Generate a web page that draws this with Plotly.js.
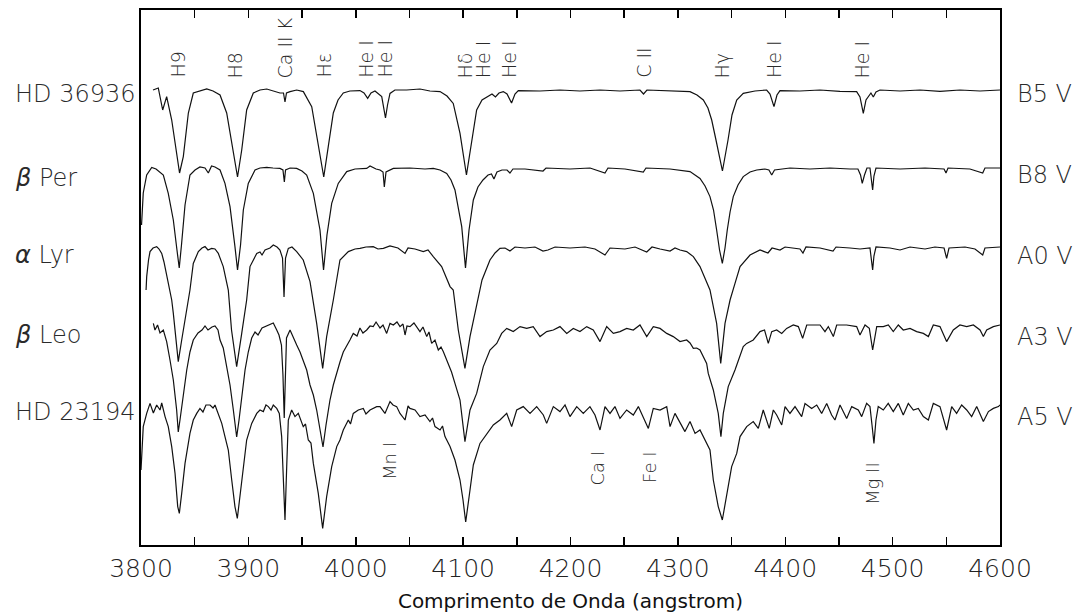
<!DOCTYPE html>
<html>
<head>
<meta charset="utf-8">
<script src="https://cdn.plot.ly/plotly-3.0.1.min.js"></script>
<style>
html,body{margin:0;padding:0;background:#fff;}
#chart{width:1079px;height:613px;}
</style>
</head>
<body>
<div id="chart"></div>
<script>
// ---------------- DATA (wavelength in angstrom, normalized flux) ----------------
const hd36936 = [[3811.2,1.000],[3816.1,1.010],[3820.2,0.900],[3823.9,0.967],[3828.6,0.850],[3833.2,0.667],[3835.9,0.585],[3839.4,0.667],[3844.1,0.885],[3848.7,0.985],[3854.9,0.995],[3861.2,1.005],[3867.1,0.995],[3873.6,0.975],[3879.8,0.885],[3886.0,0.700],[3889.9,0.565],[3893.8,0.700],[3898.4,0.900],[3904.6,0.985],[3910.8,1.000],[3917.1,1.005],[3922.9,0.995],[3929.4,0.985],[3932.7,0.985],[3934.1,0.940],[3935.5,0.985],[3938.8,0.992],[3945.0,1.000],[3951.2,0.992],[3959.0,0.917],[3965.1,0.735],[3970.2,0.565],[3974.4,0.717],[3979.1,0.885],[3983.5,0.950],[3988.4,0.985],[3994.6,0.995],[4003.9,0.997],[4007.7,0.985],[4011.1,0.958],[4014.2,0.985],[4017.9,0.995],[4024.2,0.967],[4025.8,0.925],[4027.7,0.860],[4029.6,0.925],[4031.9,0.983],[4036.5,1.000],[4047.4,1.000],[4059.8,1.005],[4069.1,0.995],[4078.5,0.992],[4085.0,0.970],[4090.8,0.933],[4097.1,0.783],[4103.1,0.575],[4108.0,0.733],[4112.6,0.900],[4117.6,0.950],[4123.2,0.970],[4126.9,0.980],[4130.1,0.965],[4133.4,0.985],[4137.4,0.992],[4140.9,0.980],[4145.1,0.935],[4148.3,0.980],[4151.4,0.997],[4171.6,0.995],[4190.2,1.000],[4208.8,0.995],[4227.5,1.000],[4246.1,0.995],[4264.7,1.000],[4268.0,0.980],[4271.2,1.000],[4292.7,0.995],[4311.3,0.992],[4317.8,0.975],[4323.7,0.950],[4328.0,0.910],[4331.5,0.850],[4335.5,0.750],[4341.5,0.595],[4346.7,0.750],[4350.4,0.875],[4354.8,0.950],[4360.9,0.983],[4371.8,0.995],[4382.7,1.000],[4385.8,0.980],[4389.5,0.917],[4392.3,0.975],[4395.1,0.997],[4413.7,0.995],[4432.3,1.000],[4450.9,0.993],[4466.5,0.992],[4469.6,0.965],[4472.7,0.883],[4475.2,0.950],[4477.3,0.967],[4479.8,0.985],[4482.0,0.965],[4484.5,0.990],[4488.2,1.000],[4506.9,0.995],[4525.5,1.000],[4544.1,0.993],[4562.7,1.000],[4581.4,0.995],[4600.0,1.000]];

const betaPer = [[3800.5,0.715],[3802.1,0.875],[3805.3,0.965],[3810.0,1.003],[3814.0,0.995],[3817.7,0.980],[3820.8,0.965],[3825.4,0.873],[3830.1,0.740],[3833.5,0.590],[3835.6,0.500],[3837.7,0.615],[3841.0,0.815],[3845.6,0.965],[3850.3,0.990],[3854.9,1.005],[3859.6,1.000],[3862.7,0.975],[3865.7,1.010],[3868.9,1.005],[3873.6,0.990],[3878.2,0.923],[3882.9,0.807],[3887.5,0.607],[3889.9,0.490],[3892.7,0.615],[3895.3,0.790],[3899.9,0.923],[3906.2,0.990],[3910.8,1.000],[3917.1,1.003],[3922.9,1.000],[3929.4,0.998],[3932.2,0.990],[3933.5,0.930],[3934.6,0.990],[3938.8,1.000],[3945.0,0.998],[3949.9,0.985],[3954.3,0.965],[3960.5,0.873],[3966.7,0.690],[3970.0,0.490],[3973.2,0.665],[3977.6,0.823],[3983.7,0.923],[3991.6,0.982],[3999.3,0.995],[4010.2,0.998],[4013.3,1.010],[4018.9,0.995],[4022.6,0.990],[4025.4,0.980],[4026.6,0.905],[4028.2,0.980],[4035.0,0.998],[4050.5,1.000],[4064.5,0.995],[4072.2,0.998],[4078.5,0.990],[4084.7,0.973],[4088.7,0.940],[4092.4,0.890],[4098.7,0.707],[4102.2,0.500],[4105.5,0.690],[4109.5,0.840],[4113.8,0.905],[4118.5,0.940],[4123.2,0.965],[4126.4,0.970],[4128.7,0.945],[4131.5,0.980],[4136.2,0.990],[4140.9,0.990],[4143.6,0.975],[4146.4,0.995],[4157.6,0.995],[4174.4,0.985],[4177.2,1.000],[4199.5,0.995],[4218.2,1.000],[4232.1,0.975],[4234.9,1.000],[4250.7,0.995],[4267.8,0.980],[4270.3,1.000],[4292.7,0.995],[4311.3,0.982],[4320.6,0.948],[4325.3,0.910],[4329.9,0.857],[4333.2,0.790],[4336.1,0.690],[4338.8,0.590],[4341.4,0.523],[4343.9,0.600],[4346.0,0.690],[4348.6,0.780],[4351.6,0.857],[4356.0,0.915],[4360.9,0.957],[4367.2,0.980],[4373.4,0.990],[4381.1,0.995],[4384.8,0.990],[4387.4,0.965],[4390.0,0.990],[4404.4,1.000],[4423.0,0.995],[4441.7,1.000],[4460.3,0.995],[4467.7,0.995],[4470.1,0.965],[4471.7,0.923],[4473.8,0.965],[4476.1,1.000],[4478.9,1.000],[4480.3,0.950],[4481.4,0.890],[4482.6,0.960],[4484.5,1.000],[4506.9,0.995],[4530.2,1.000],[4547.9,0.995],[4549.7,0.975],[4551.6,1.000],[4572.0,0.995],[4583.9,0.975],[4586.0,1.000],[4600.0,1.000]];

const alphaLyr = [[3804.7,0.785],[3805.3,0.852],[3807.0,0.935],[3808.4,0.977],[3811.2,0.995],[3814.6,1.002],[3816.8,0.990],[3819.3,0.968],[3821.4,0.925],[3823.9,0.852],[3828.6,0.735],[3830.1,0.668],[3833.2,0.502],[3834.7,0.427],[3837.9,0.535],[3842.6,0.685],[3845.6,0.785],[3848.7,0.918],[3853.4,0.977],[3856.8,0.995],[3859.6,1.002],[3862.4,0.985],[3865.8,0.993],[3868.9,0.990],[3872.0,0.968],[3876.6,0.902],[3881.3,0.785],[3884.3,0.585],[3889.1,0.402],[3893.8,0.568],[3898.4,0.735],[3901.5,0.902],[3907.8,0.968],[3910.8,0.975],[3912.7,0.960],[3915.5,0.985],[3920.1,0.995],[3923.2,1.010],[3926.7,1.000],[3929.4,0.985],[3931.8,0.945],[3933.2,0.750],[3934.6,0.945],[3937.2,0.993],[3940.6,1.000],[3945.0,0.977],[3951.1,0.935],[3957.4,0.827],[3963.6,0.618],[3969.2,0.393],[3972.9,0.552],[3979.1,0.735],[3985.3,0.935],[3993.1,0.977],[3999.3,0.990],[4003.9,0.993],[4009.5,1.000],[4016.3,1.002],[4020.7,0.990],[4025.7,0.993],[4031.9,1.005],[4039.3,0.995],[4045.9,0.968],[4048.7,0.995],[4055.2,0.990],[4062.9,0.977],[4067.3,0.985],[4072.2,0.952],[4080.0,0.902],[4087.8,0.802],[4090.8,0.785],[4095.5,0.585],[4101.7,0.393],[4106.4,0.552],[4112.6,0.718],[4117.6,0.835],[4125.0,0.935],[4129.7,0.970],[4134.3,0.993],[4139.0,0.995],[4143.6,0.980],[4148.3,1.000],[4157.6,0.995],[4166.9,1.000],[4174.4,0.980],[4179.0,0.985],[4185.6,1.000],[4199.5,0.995],[4213.5,1.000],[4222.8,0.990],[4232.1,0.960],[4236.8,0.995],[4250.7,0.990],[4260.1,1.000],[4271.0,0.975],[4275.9,1.000],[4283.4,0.990],[4292.7,0.980],[4297.3,0.995],[4302.0,0.985],[4308.2,0.977],[4314.4,0.952],[4320.6,0.902],[4326.8,0.818],[4329.9,0.785],[4336.1,0.618],[4339.9,0.418],[4343.9,0.618],[4348.6,0.735],[4353.2,0.818],[4357.9,0.902],[4367.2,0.960],[4376.5,0.985],[4383.9,0.970],[4387.7,0.995],[4395.1,0.985],[4399.8,1.000],[4413.7,0.990],[4416.5,0.970],[4419.3,1.000],[4432.4,0.995],[4444.5,0.980],[4447.3,1.000],[4460.3,0.995],[4469.6,0.990],[4478.9,0.995],[4480.3,0.945],[4481.4,0.885],[4482.6,0.955],[4484.5,1.000],[4497.5,0.995],[4506.9,0.985],[4516.2,1.000],[4530.2,0.990],[4539.4,1.000],[4547.9,0.995],[4550.3,0.943],[4552.5,0.995],[4567.4,1.000],[4576.7,0.990],[4583.9,0.960],[4586.0,0.995],[4600.0,1.000]];

const betaLeo = [[3811.5,1.013],[3813.0,0.980],[3815.4,1.005],[3817.7,0.965],[3820.8,0.980],[3823.9,0.922],[3827.0,0.830],[3830.1,0.730],[3833.2,0.580],[3834.7,0.470],[3836.3,0.530],[3839.4,0.655],[3842.6,0.780],[3845.6,0.870],[3848.7,0.930],[3853.1,0.965],[3856.8,0.980],[3859.6,1.000],[3862.4,0.980],[3866.1,0.995],[3868.9,1.000],[3871.7,0.980],[3873.6,0.930],[3876.6,0.890],[3879.8,0.805],[3882.9,0.705],[3886.0,0.580],[3889.1,0.445],[3891.3,0.530],[3894.1,0.655],[3896.9,0.780],[3899.9,0.870],[3903.1,0.940],[3906.2,0.970],[3909.0,0.955],[3912.7,0.990],[3917.1,1.000],[3920.1,1.005],[3923.2,1.015],[3926.4,0.980],[3928.5,0.955],[3930.8,0.905],[3932.2,0.755],[3933.4,0.540],[3934.4,0.755],[3935.5,0.940],[3938.8,0.980],[3941.8,0.940],[3945.0,0.905],[3948.1,0.870],[3951.1,0.830],[3954.3,0.780],[3957.4,0.705],[3960.5,0.655],[3963.6,0.580],[3966.7,0.480],[3969.5,0.395],[3972.3,0.505],[3976.0,0.630],[3979.1,0.705],[3982.3,0.770],[3985.3,0.820],[3988.4,0.870],[3991.6,0.905],[3994.6,0.930],[3997.7,0.963],[4001.2,0.950],[4003.9,0.990],[4006.7,0.965],[4010.2,0.980],[4013.3,1.000],[4016.3,0.997],[4018.9,1.020],[4022.6,0.990],[4025.4,1.005],[4028.8,0.963],[4031.9,1.013],[4035.0,1.005],[4038.4,1.020],[4041.2,0.997],[4044.0,1.010],[4045.9,0.955],[4047.7,1.000],[4050.5,0.997],[4054.2,1.015],[4059.8,0.972],[4062.6,0.995],[4066.1,0.947],[4068.2,0.970],[4070.7,0.913],[4073.8,0.930],[4076.9,0.880],[4079.4,0.895],[4081.5,0.872],[4086.2,0.813],[4089.2,0.770],[4092.4,0.713],[4097.1,0.630],[4101.7,0.422],[4106.4,0.580],[4112.6,0.663],[4118.8,0.797],[4125.0,0.880],[4131.3,0.913],[4135.9,0.963],[4140.6,0.988],[4146.7,0.972],[4153.0,0.997],[4159.2,0.988],[4165.3,0.997],[4171.6,0.947],[4177.8,0.972],[4184.0,0.980],[4190.2,0.997],[4196.5,0.963],[4202.6,0.988],[4208.8,0.972],[4215.1,0.997],[4221.2,0.980],[4227.5,0.922],[4233.7,0.997],[4239.9,0.963],[4246.1,0.972],[4252.3,0.988],[4258.5,0.980],[4264.7,1.005],[4271.0,0.947],[4277.1,0.997],[4283.4,0.988],[4289.6,0.963],[4295.7,0.947],[4302.0,0.922],[4308.2,0.930],[4311.3,0.915],[4314.4,0.888],[4317.5,0.890],[4320.6,0.880],[4323.7,0.847],[4326.8,0.813],[4328.3,0.763],[4333.0,0.680],[4337.6,0.563],[4340.1,0.447],[4342.3,0.563],[4346.9,0.697],[4353.2,0.780],[4356.3,0.830],[4360.9,0.897],[4364.1,0.913],[4370.2,0.930],[4376.5,0.972],[4380.7,0.980],[4384.2,0.913],[4387.4,0.972],[4392.0,0.980],[4396.7,0.963],[4401.3,0.988],[4407.5,1.005],[4412.2,0.997],[4416.2,0.938],[4420.0,1.005],[4432.4,1.005],[4437.0,0.972],[4440.1,0.997],[4444.8,0.947],[4447.9,1.005],[4457.2,1.005],[4466.5,0.997],[4469.6,0.955],[4474.3,1.005],[4478.3,0.988],[4481.4,0.880],[4485.2,0.997],[4491.3,0.997],[4496.0,1.005],[4500.6,0.972],[4505.3,1.005],[4509.9,0.980],[4516.2,0.988],[4522.4,0.972],[4528.6,0.963],[4533.3,0.947],[4537.9,1.005],[4544.1,0.997],[4550.3,0.922],[4556.5,0.980],[4562.7,1.005],[4569.0,0.997],[4575.2,1.005],[4581.4,0.980],[4584.5,0.947],[4587.6,0.980],[4593.8,0.997],[4600.0,1.005]];

const hd23194 = [[3800.0,0.675],[3800.7,0.760],[3802.1,0.892],[3805.3,0.958],[3808.4,1.008],[3811.5,0.960],[3814.6,1.000],[3817.7,0.975],[3819.3,1.010],[3822.4,0.942],[3825.4,0.892],[3828.6,0.792],[3831.7,0.658],[3834.2,0.492],[3835.7,0.458],[3837.9,0.558],[3841.0,0.708],[3845.6,0.858],[3848.7,0.925],[3851.9,0.958],[3854.9,0.983],[3857.7,0.965],[3860.5,1.000],[3864.3,1.000],[3867.1,0.985],[3868.9,1.000],[3872.0,0.958],[3875.2,0.908],[3878.2,0.842],[3881.3,0.775],[3884.5,0.625],[3887.5,0.492],[3889.7,0.433],[3892.2,0.542],[3895.3,0.692],[3898.4,0.825],[3903.1,0.908],[3907.8,0.958],[3910.8,0.975],[3913.9,0.967],[3916.4,1.000],[3918.6,0.992],[3921.1,0.975],[3923.2,1.000],[3926.4,0.983],[3928.8,0.958],[3931.0,0.842],[3932.5,0.625],[3934.1,0.425],[3935.7,0.692],[3937.2,0.925],[3940.3,0.975],[3943.4,0.942],[3946.5,0.958],[3951.1,0.892],[3953.2,0.905],[3955.8,0.825],[3958.3,0.810],[3960.5,0.708],[3965.1,0.558],[3969.2,0.383],[3972.9,0.542],[3977.6,0.692],[3982.3,0.792],[3985.3,0.825],[3988.4,0.875],[3993.1,0.925],[3995.1,0.905],[3997.7,0.958],[4002.4,0.975],[4007.0,0.983],[4009.5,0.955],[4013.3,0.975],[4019.5,0.992],[4022.6,0.992],[4027.2,0.958],[4031.9,1.017],[4034.7,1.000],[4038.1,0.992],[4041.2,0.958],[4045.9,0.925],[4048.7,0.995],[4050.5,0.983],[4055.2,0.975],[4059.8,0.942],[4064.5,0.950],[4069.1,0.917],[4071.5,0.935],[4073.8,0.892],[4078.5,0.875],[4080.8,0.895],[4083.1,0.842],[4087.8,0.792],[4092.4,0.725],[4097.1,0.625],[4099.9,0.525],[4102.4,0.415],[4106.4,0.575],[4109.5,0.700],[4115.7,0.808],[4122.0,0.858],[4128.1,0.900],[4134.3,0.925],[4140.6,0.958],[4145.2,0.892],[4149.9,0.975],[4156.0,0.992],[4162.3,0.958],[4168.5,0.992],[4174.7,0.950],[4177.8,0.908],[4184.0,0.992],[4190.2,0.967],[4194.9,1.000],[4199.5,0.942],[4205.8,0.992],[4211.9,0.958],[4218.1,0.992],[4222.8,0.950],[4227.5,0.875],[4232.1,0.992],[4236.8,0.958],[4241.4,0.992],[4246.1,0.933],[4252.3,0.975],[4258.5,0.950],[4263.2,0.992],[4267.8,0.942],[4272.5,0.883],[4277.1,0.983],[4283.4,0.975],[4289.6,0.992],[4292.7,0.892],[4297.3,0.958],[4302.0,0.908],[4306.6,0.867],[4311.3,0.917],[4316.0,0.858],[4320.6,0.875],[4325.3,0.825],[4329.9,0.775],[4333.0,0.625],[4337.6,0.492],[4341.4,0.425],[4345.4,0.558],[4350.1,0.692],[4354.8,0.758],[4357.9,0.842],[4364.1,0.892],[4370.2,0.917],[4374.9,0.883],[4379.5,0.975],[4385.1,0.883],[4388.9,0.975],[4392.0,0.950],[4396.7,0.900],[4399.8,0.992],[4404.4,0.958],[4409.1,0.992],[4415.3,0.942],[4418.4,1.008],[4424.6,0.983],[4429.3,1.000],[4433.9,0.958],[4438.6,1.008],[4443.2,0.950],[4446.3,0.925],[4451.0,1.000],[4457.2,0.933],[4461.9,0.992],[4468.0,0.975],[4471.2,0.942],[4475.8,1.008],[4478.9,0.992],[4480.8,0.900],[4482.6,0.808],[4484.5,0.925],[4486.6,0.992],[4491.3,0.975],[4495.9,1.008],[4500.6,0.967],[4505.3,1.008],[4509.9,0.950],[4514.6,1.008],[4519.3,0.975],[4523.9,0.983],[4528.6,0.942],[4533.3,0.925],[4537.9,1.008],[4544.1,0.992],[4550.3,0.875],[4555.0,0.992],[4559.6,0.958],[4564.3,1.000],[4569.0,0.975],[4573.6,0.942],[4578.3,0.992],[4584.5,0.917],[4589.2,0.967],[4593.8,0.983],[4598.5,0.992],[4600.0,1.000]];

const starNames = ['HD 36936', '<i>β</i> Per', '<i>α</i> Lyr', '<i>β</i> Leo', 'HD 23194'];
const spectralTypes = ['B5 V', 'B8 V', 'A0 V', 'A3 V', 'A5 V'];
const fluxOffsets = [1.275, 0.885, 0.49, 0.095, -0.30];

const topLineLabels = ['H9', 'H8', 'Ca II K', 'Hε', 'He I', 'He I', 'Hδ', 'He I', 'He I', 'C II', 'Hγ', 'He I', 'He I'];
const topLineWaves  = [3834.0, 3888.0, 3934.1, 3969.5, 4009.4, 4026.8, 4102.2, 4118.8, 4142.7, 4267.8, 4341.5, 4389.5, 4471.9];

const metalLineLabels = ['Mn I', 'Ca I', 'Fe I', 'Mg II'];
const metalLineWaves  = [4030.9, 4225.1, 4273.1, 4481.2];

const tickValues = [3800, 3900, 4000, 4100, 4200, 4300, 4400, 4500, 4600];
const tickLabels = ['3800', '3900', '4000', '4100', '4200', '4300', '4400', '4500', '4600'];

// ---------------- LAYOUT CONSTANTS ----------------
const starLabelY = [2.255, 1.835, 1.45, 1.05, 0.6675];
const typeLabelY = [2.255, 1.85, 1.445, 1.04, 0.64];
const metalLabelY = [0.42, 0.385, 0.39, 0.3075];
const topLabelY = 2.325;

const spectra = [hd36936, betaPer, alphaLyr, betaLeo, hd23194];
const traces = spectra.map((s, i) => ({
  type: 'scatter',
  mode: 'lines',
  x: s.map(p => p[0]),
  y: s.map(p => p[1] + fluxOffsets[i]),
  line: {color: '#111', width: 1.2},
  hoverinfo: 'skip',
  name: starNames[i]
}));

const textColor = '#2a2a2a';
const thinFont = (size) => ({family: 'DejaVu Sans, Verdana, sans-serif', size: size, color: textColor, weight: 200});

const annotations = [];
topLineLabels.forEach((t, i) => annotations.push({
  x: topLineWaves[i], y: topLabelY, xref: 'x', yref: 'y', text: t, showarrow: false,
  textangle: -90, xanchor: 'center', yanchor: 'bottom', font: thinFont(19)
}));
metalLineLabels.forEach((t, i) => annotations.push({
  x: metalLineWaves[i], y: metalLabelY[i], xref: 'x', yref: 'y', text: t, showarrow: false,
  textangle: -90, xanchor: 'center', yanchor: 'middle', font: thinFont(18)
}));
starNames.forEach((t, i) => annotations.push({
  x: -0.149, y: starLabelY[i], xref: 'paper', yref: 'y', text: t, showarrow: false,
  xanchor: 'left', yanchor: 'middle', font: thinFont(24)
}));
spectralTypes.forEach((t, i) => annotations.push({
  x: 1.0175, y: typeLabelY[i], xref: 'paper', yref: 'y', text: t, showarrow: false,
  xanchor: 'left', yanchor: 'middle', font: thinFont(24)
}));

const layout = {
  width: 1079, height: 613,
  margin: {l: 141, r: 79, t: 10, b: 68, pad: 0},
  paper_bgcolor: '#fff', plot_bgcolor: '#fff',
  showlegend: false,
  xaxis: {
    range: [3800, 4600],
    tickmode: 'array', tickvals: tickValues, ticktext: tickLabels,
    ticks: 'inside', ticklen: 8, tickwidth: 1.5, tickcolor: '#000',
    minor: {dtick: 50, tick0: 3800, ticks: 'inside', ticklen: 8, tickwidth: 1.5, tickcolor: '#000', showgrid: false},
    showline: true, linecolor: '#000', linewidth: 2, mirror: 'ticks',
    showgrid: false, zeroline: false,
    tickfont: {family: 'DejaVu Sans, Verdana, sans-serif', size: 25, color: '#222', weight: 200},
    title: {text: 'Comprimento de Onda (angstrom)', font: {family: 'DejaVu Sans, Verdana, sans-serif', size: 20, color: '#111'}, standoff: 12},
    automargin: false, fixedrange: true
  },
  yaxis: {
    range: [0, 2.675],
    showticklabels: false, ticks: '',
    showline: true, linecolor: '#000', linewidth: 2, mirror: true,
    showgrid: false, zeroline: false, automargin: false, fixedrange: true
  },
  annotations: annotations
};

Plotly.newPlot('chart', traces, layout, {displayModeBar: false, staticPlot: true});
</script>
</body>
</html>
